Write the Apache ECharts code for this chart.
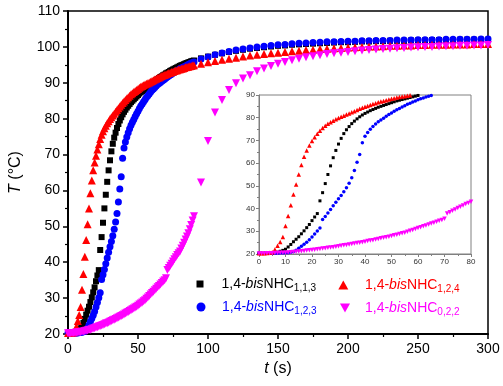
<!DOCTYPE html>
<html>
<head>
<meta charset="utf-8">
<script src="https://cdn.jsdelivr.net/npm/echarts@6/dist/echarts.min.js"></script>
<style>html,body{margin:0;padding:0;background:#fff;}#c{width:503px;height:386px;}</style>
</head>
<body>
<div id="c"></div>
<script>
// time (s): 1 s steps to 90 s, then 5 s steps
const time = [0,1,2,3,4,5,6,7,8,9,10,11,12,13,14,15,16,17,18,19,20,21,22,23,24,25,26,27,28,29,30,31,32,33,34,35,36,37,38,39,40,41,42,43,44,45,46,47,48,49,50,51,52,53,54,55,56,57,58,59,60,61,62,63,64,65,66,67,68,69,70,71,72,73,74,75,76,77,78,79,80,81,82,83,84,85,86,87,88,89,90,
95,100,105,110,115,120,125,130,135,140,145,150,155,160,165,170,175,180,185,190,195,200,205,210,215,220,225,230,235,240,245,250,255,260,265,270,275,280,285,290,295,300];

const tempNHC113 = [20.3,20.3,20.3,20.3,20.3,20.4,20.5,20.8,21.2,21.6,
22.1,23.1,24.2,25.4,26.5,27.6,28.9,30.2,31.6,33.0,
34.7,36.3,37.8,43.4,47.0,51.0,55.0,58.8,62.4,65.6,
68.4,70.9,73.0,74.7,76.1,77.4,78.5,79.5,80.4,81.2,
81.9,82.5,83.1,83.6,84.1,84.6,85.0,85.4,85.8,86.2,
86.6,87.0,87.4,87.7,88.0,88.3,88.6,88.9,89.2,89.5,
89.8,90.1,90.4,90.7,91.0,91.3,91.6,91.8,92.1,92.3,
92.6,92.8,93.0,93.3,93.5,93.7,93.9,94.1,94.3,94.5,
94.7,94.9,95.0,95.2,95.4,95.5,95.7,95.8,96.0,96.1,
96.2,
96.8,97.3,97.8,98.2,98.6,98.9,99.2,99.5,99.7,99.9,
100.1,100.3,100.4,100.6,100.7,100.8,100.9,101.0,101.1,101.2,
101.3,101.3,101.4,101.5,101.5,101.6,101.6,101.7,101.7,101.7,
101.8,101.8,101.8,101.9,101.9,101.9,101.9,102.0,102.0,102.0,
102.0,102.0];

const tempNHC123 = [20.3,20.3,20.3,20.3,20.3,20.3,20.3,20.3,20.4,20.4,
20.5,20.6,20.8,21.1,21.7,22.5,23.4,24.3,25.2,26.3,
27.5,28.8,30.1,31.5,35.2,36.5,38.0,39.6,41.2,42.8,
44.3,45.8,47.4,49.2,51.2,53.6,56.8,60.4,63.8,69.0,
71.8,73.5,74.9,76.1,77.2,78.2,79.0,79.8,80.6,81.4,
82.1,82.8,83.5,84.1,84.7,85.3,85.9,86.4,86.9,87.4,
87.9,88.3,88.7,89.1,89.5,89.8,90.1,90.4,90.7,91.0,
91.3,91.6,91.9,92.2,92.4,92.7,92.9,93.2,93.4,93.6,
93.9,94.1,94.3,94.5,94.7,94.9,95.1,95.3,95.5,95.6,
95.8,
96.6,97.2,97.8,98.3,98.7,99.1,99.4,99.7,100.0,100.2,
100.4,100.6,100.7,100.9,101.0,101.1,101.2,101.3,101.4,101.4,
101.5,101.6,101.6,101.7,101.7,101.8,101.8,101.8,101.9,101.9,
101.9,102.0,102.0,102.0,102.0,102.1,102.1,102.1,102.1,102.1,
102.2,102.2];

const tempNHC124 = [20.3,20.3,20.3,20.4,20.5,20.8,22.0,23.6,25.3,27.5,
32.3,36.7,41.5,46.2,50.6,55.0,59.2,62.8,65.6,67.8,
69.7,71.4,72.9,74.3,75.5,76.5,77.3,78.0,78.7,79.3,
79.9,80.4,80.9,81.4,81.9,82.4,82.9,83.4,83.9,84.4,
84.8,85.2,85.6,86.0,86.4,86.8,87.1,87.4,87.7,88.0,
88.3,88.6,88.9,89.1,89.3,89.5,89.7,89.9,90.1,90.3,
90.5,90.7,90.9,91.1,91.3,91.5,91.7,91.9,92.1,92.2,
92.4,92.5,92.7,92.8,93.0,93.1,93.3,93.4,93.5,93.7,
93.8,93.9,94.0,94.1,94.3,94.4,94.5,94.6,94.7,94.8,
94.9,
95.3,95.7,96.1,96.4,96.7,97.0,97.3,97.6,97.8,98.0,
98.2,98.4,98.6,98.8,98.9,99.1,99.2,99.4,99.5,99.6,
99.7,99.8,99.9,100.0,100.1,100.1,100.2,100.3,100.3,100.4,
100.4,100.5,100.5,100.6,100.6,100.6,100.7,100.7,100.7,100.8,
100.8,100.8];

const tempNHC022 = [20.2,20.2,20.2,20.3,20.3,20.3,20.4,20.4,20.5,20.5,
20.6,20.7,20.8,20.9,21.0,21.1,21.2,21.3,21.5,21.6,
21.8,21.9,22.1,22.2,22.4,22.5,22.7,22.9,23.0,23.2,
23.4,23.6,23.8,24.0,24.2,24.4,24.6,24.8,25.0,25.2,
25.4,25.7,25.9,26.1,26.4,26.6,26.9,27.1,27.4,27.6,
27.9,28.2,28.5,28.8,29.1,29.4,29.8,30.2,30.6,31.0,
31.4,31.8,32.2,32.6,33.0,33.4,33.8,34.2,34.6,35.0,
35.5,37.8,38.4,39.0,39.6,40.2,40.8,41.4,42.0,42.5,
43.0,43.8,44.6,45.4,46.3,47.2,48.1,49.2,50.4,51.6,
52.8,
62.2,73.8,81.7,85.2,88.0,89.9,91.2,92.1,93.2,94.0,
94.7,95.3,95.8,96.3,96.7,97.1,97.4,97.7,98.0,98.2,
98.4,98.6,98.8,99.0,99.1,99.3,99.4,99.5,99.6,99.7,
99.8,99.9,100.0,100.0,100.1,100.2,100.2,100.3,100.3,100.4,
100.4,100.5];

const seriesNames = ['1,4-bisNHC1,1,3','1,4-bisNHC1,2,3','1,4-bisNHC1,2,4','1,4-bisNHC0,2,2'];
const subscripts = ['1,1,3','1,2,3','1,2,4','0,2,2'];
const mainTicksX = [0,50,100,150,200,250,300];
const mainTicksY = [20,30,40,50,60,70,80,90,100,110];

const FONT = '"Liberation Sans", Arial, sans-serif';
const colors = ['#000000','#0000ff','#ff0000','#ff00ff'];
const symbols = ['rect','circle','triangle','triangle'];
const rotations = [0,0,0,180];
const mainSizes = [6,7,8,8];
const insetSizes = [3,3.5,4.5,4.5];
const values = [tempNHC113, tempNHC123, tempNHC124, tempNHC022];

function pairs(v){ return time.map((t,i)=>[t, v[i]]); }

const series = [];
values.forEach((v,k)=>{
  series.push({type:'scatter', name:seriesNames[k], xAxisIndex:0, yAxisIndex:0, data:pairs(v),
    symbol:symbols[k], symbolRotate:rotations[k], symbolSize:mainSizes[k],
    itemStyle:{color:colors[k], opacity:1}, z:2+k});
});
values.forEach((v,k)=>{
  series.push({type:'scatter', name:'inset'+k, xAxisIndex:1, yAxisIndex:1, data:pairs(v),
    symbol:symbols[k], symbolRotate:rotations[k], symbolSize:insetSizes[k], clip:true,
    itemStyle:{color:colors[k], opacity:1}, z:12+k});
});

function legendFor(k, left, top, icon, w, h, padL){
  const c = colors[k];
  return {
    data:[{name:seriesNames[k], icon:icon}], left:left, top:top, itemWidth:w, itemHeight:h,
    selectedMode:false, padding:0, itemStyle:{color:c},
    formatter:function(){ return '{a|1,4-}{i|bis}{n|NHC}{s|'+subscripts[k]+'}'; },
    textStyle:{fontFamily:FONT, color:c, rich:{
      a:{fontSize:14, color:c, fontFamily:FONT, padding:[0,0,0,padL]},
      i:{fontSize:14, color:c, fontFamily:FONT, fontStyle:'italic'},
      n:{fontSize:14, color:c, fontFamily:FONT},
      s:{fontSize:10, color:c, fontFamily:FONT, padding:[9,0,0,0]}
    }}
  };
}

const option = {
  animation:false,
  backgroundColor:'#fff',
  textStyle:{fontFamily:FONT},
  grid:[
    {left:67, top:11, width:421, height:323, show:true, borderColor:'#000', borderWidth:1.5, backgroundColor:'transparent'},
    {left:259, top:95, width:212, height:159, show:true, borderColor:'#808080', borderWidth:1, backgroundColor:'#fff', z:10}
  ],
  xAxis:[
    {gridIndex:0, type:'value', min:mainTicksX[0], max:mainTicksX[mainTicksX.length-1], interval:50,
     axisLine:{show:true, onZero:false, lineStyle:{color:'#000', width:2}},
     axisTick:{show:true, inside:false, length:5, lineStyle:{color:'#000', width:1.5}},
     minorTick:{show:true, splitNumber:2, length:3, lineStyle:{color:'#000', width:1.2}},
     splitLine:{show:false},
     axisLabel:{fontSize:14, color:'#000', margin:8, fontFamily:FONT},
     name:'{i|t} (s)', nameLocation:'middle', nameGap:27,
     nameTextStyle:{fontSize:16, color:'#000', fontFamily:FONT, rich:{i:{fontSize:16, fontStyle:'italic', color:'#000', fontFamily:FONT}}}},
    {gridIndex:1, type:'value', min:0, max:80, interval:10, z:11,
     axisLine:{show:true, onZero:false, lineStyle:{color:'#808080', width:1}},
     axisTick:{show:true, inside:false, length:3, lineStyle:{color:'#808080'}},
     minorTick:{show:true, splitNumber:2, length:2, lineStyle:{color:'#808080'}},
     splitLine:{show:false},
     axisLabel:{fontSize:8, color:'#333', margin:4, fontFamily:FONT}}
  ],
  yAxis:[
    {gridIndex:0, type:'value', min:mainTicksY[0], max:mainTicksY[mainTicksY.length-1], interval:10,
     axisLine:{show:true, onZero:false, lineStyle:{color:'#000', width:2}},
     axisTick:{show:true, inside:false, length:5, lineStyle:{color:'#000', width:1.5}},
     minorTick:{show:true, splitNumber:2, length:3, lineStyle:{color:'#000', width:1.2}},
     splitLine:{show:false},
     axisLabel:{fontSize:14, color:'#000', margin:8, fontFamily:FONT},
     name:'{i|T} (°C)', nameLocation:'middle', nameGap:44, nameRotate:90,
     nameTextStyle:{fontSize:16, color:'#000', fontFamily:FONT, rich:{i:{fontSize:16, fontStyle:'italic', color:'#000', fontFamily:FONT}}}},
    {gridIndex:1, type:'value', min:20, max:90, interval:10, z:11,
     axisLine:{show:true, onZero:false, lineStyle:{color:'#808080', width:1}},
     axisTick:{show:true, inside:false, length:3, lineStyle:{color:'#808080'}},
     minorTick:{show:true, splitNumber:2, length:2, lineStyle:{color:'#808080'}},
     splitLine:{show:false},
     axisLabel:{fontSize:8, color:'#333', margin:4, fontFamily:FONT}}
  ],
  legend:[
    legendFor(0, 196.5, 277, 'rect', 7, 7, 13),
    legendFor(1, 196.5, 300, 'circle', 9, 9, 11.5),
    legendFor(2, 338.3, 278, 'triangle', 10, 9, 11.7),
    legendFor(3, 340, 301, 'path://M0,0L10,0L5,9Z', 10, 9, 10)
  ],
  series:series
};

const chart = echarts.init(document.getElementById('c'), null, {renderer:'canvas'});
chart.setOption(option);
</script>
</body>
</html>
